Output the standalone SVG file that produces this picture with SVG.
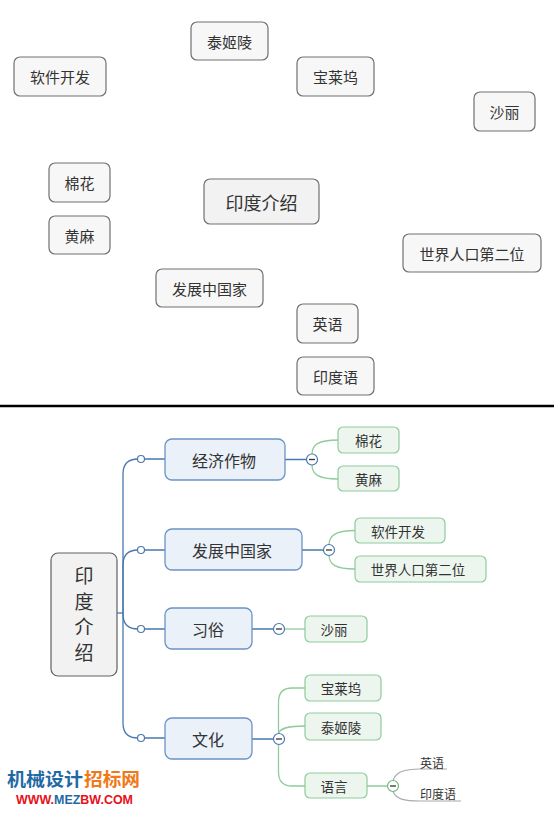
<svg xmlns="http://www.w3.org/2000/svg" width="554" height="817" viewBox="0 0 554 817">
<style>
text{font-family:"Noto Sans CJK SC","Noto Sans",sans-serif;fill:#333;text-anchor:middle;dominant-baseline:central}
.t rect{fill:#f7f7f7;stroke:#707070;stroke-width:1.2}
.t text{font-size:15px}
.root rect{fill:#f2f2f2;stroke:#606060;stroke-width:1.2}
.main rect{fill:#eaf1f9;stroke:#6b93c4;stroke-width:1.3}
.main text{font-size:16px}
.sub rect{fill:#ecf5ee;stroke:#8fcb9b;stroke-width:1.2}
.sub text{font-size:13.5px}
.leaf text{font-size:12px;text-anchor:start}
.blue{fill:none;stroke:#4a78ae;stroke-width:1.3}
.green{fill:none;stroke:#8fcb9b;stroke-width:1.3}
.grey{fill:none;stroke:#aaaaaa;stroke-width:1.2}
.dot{fill:#fff;stroke:#4a78ae;stroke-width:1.2}
.tog{fill:#fff;stroke:#4a78ae;stroke-width:1.2}
.tog-g{fill:#fff;stroke:#6fb57f;stroke-width:1.2}
.minus{stroke:#333;stroke-width:1.3}
</style>

<!-- Top: scattered topics -->
<g id="top-tajmahal" class="t"><rect x="191" y="22" width="77" height="38" rx="6"/><text x="229.5" y="41">泰姬陵</text></g>
<g id="top-software" class="t"><rect x="14" y="57" width="92" height="39" rx="6"/><text x="60" y="76.5">软件开发</text></g>
<g id="top-bollywood" class="t"><rect x="297" y="57" width="77" height="39" rx="6"/><text x="335.5" y="76.5">宝莱坞</text></g>
<g id="top-sari" class="t"><rect x="474" y="92" width="61" height="39" rx="6"/><text x="504.5" y="111.5">沙丽</text></g>
<g id="top-cotton" class="t"><rect x="49" y="163" width="61" height="39" rx="6"/><text x="79.5" y="182.5">棉花</text></g>
<g id="top-india" class="t"><rect x="204" y="179" width="115" height="45" rx="6" style="fill:#f2f2f2"/><text x="261.5" y="201.5" style="font-size:18px">印度介绍</text></g>
<g id="top-jute" class="t"><rect x="49" y="216" width="61" height="38" rx="6"/><text x="79.5" y="235">黄麻</text></g>
<g id="top-population" class="t"><rect x="403" y="234" width="138" height="38" rx="6"/><text x="472" y="253">世界人口第二位</text></g>
<g id="top-developing" class="t"><rect x="156" y="269" width="107" height="38" rx="6"/><text x="209.5" y="288">发展中国家</text></g>
<g id="top-english" class="t"><rect x="297" y="304" width="61" height="39" rx="6"/><text x="327.5" y="323.5">英语</text></g>
<g id="top-hindi" class="t"><rect x="297" y="357" width="77" height="38" rx="6"/><text x="335.5" y="376">印度语</text></g>

<line x1="0" y1="406" x2="554" y2="406" stroke="#000" stroke-width="2.5"/>

<!-- Bottom: mind map connectors -->
<g id="connectors">
  <path class="blue" d="M117,613 H123"/>
  <path class="blue" d="M123,613 V474 Q123,459 138,459"/>
  <path class="blue" d="M123,613 V565 Q123,550 138,550"/>
  <path class="blue" d="M123,613 V614 Q123,629 138,629"/>
  <path class="blue" d="M123,613 V723 Q123,738 138,738"/>
  <path class="blue" d="M144.5,459 H165 M144.5,550 H165 M144.5,629 H165 M144.5,738 H165"/>
  <circle class="dot" cx="141" cy="459" r="3.5"/>
  <circle class="dot" cx="141" cy="550" r="3.5"/>
  <circle class="dot" cx="141" cy="629" r="3.5"/>
  <circle class="dot" cx="141" cy="738" r="3.5"/>

  <path class="blue" d="M285,459.5 H306.5 M302,550 H323.5 M252,629 H273.5 M252,739 H273.5"/>

  <path class="green" d="M312,454 C312,445 318,440 338,440 M312,465 C312,474 318,479 338,479"/>
  <path class="green" d="M329,545 C329,536 335,530.5 355,530.5 M329,555 C329,564 335,569 355,569"/>
  <path class="green" d="M284.5,629 H305"/>
  <path class="green" d="M278.5,733.5 V702 Q278.5,688 292,688 H305 M278.5,733.5 C280,728 288,726 305,726 M278.5,744.5 V772 Q278.5,786 292,786 H305 M367,786 H387.5"/>
  <path class="grey" d="M393,780.5 C396,772 404,769 420,769 H447 M393,791.5 C396,799 404,801 420,801 H461"/>

  <circle class="tog" cx="312" cy="459.5" r="5.5"/><path class="minus" d="M309,459.5 H315"/>
  <circle class="tog" cx="329" cy="550" r="5.5"/><path class="minus" d="M326,550 H332"/>
  <circle class="tog" cx="279" cy="629" r="5.5"/><path class="minus" d="M276,629 H282"/>
  <circle class="tog" cx="279" cy="739" r="5.5"/><path class="minus" d="M276,739 H282"/>
  <circle class="tog-g" cx="393" cy="786" r="5.5"/><path class="minus" d="M390,786 H396"/>
</g>

<g id="root" class="root"><rect x="51" y="553" width="66" height="123" rx="7"/>
  <text x="84" y="566.5" style="font-size:19px;writing-mode:vertical-rl;text-orientation:upright;text-anchor:start;letter-spacing:6.5px">印度介绍</text>
</g>
<g id="b-crops" class="main"><rect x="165" y="439" width="120" height="41" rx="7"/><text x="224" y="459.5">经济作物</text></g>
<g id="b-developing" class="main"><rect x="165" y="529" width="137" height="41" rx="7"/><text x="232" y="549.5">发展中国家</text></g>
<g id="b-custom" class="main"><rect x="165" y="608" width="87" height="41" rx="7"/><text x="208" y="628.5">习俗</text></g>
<g id="b-culture" class="main"><rect x="165" y="718" width="87" height="41" rx="7"/><text x="208" y="738.5">文化</text></g>

<g id="s-cotton" class="sub"><rect x="338" y="427" width="61" height="26" rx="5"/><text x="368.5" y="440">棉花</text></g>
<g id="s-jute" class="sub"><rect x="338" y="466" width="61" height="25" rx="5"/><text x="368.5" y="478.5">黄麻</text></g>
<g id="s-software" class="sub"><rect x="355" y="518" width="90" height="25" rx="5"/><text x="398" y="530.5">软件开发</text></g>
<g id="s-population" class="sub"><rect x="355" y="556" width="131" height="26" rx="5"/><text x="418" y="569">世界人口第二位</text></g>
<g id="s-sari" class="sub"><rect x="305" y="616" width="62" height="26" rx="5"/><text x="334" y="629">沙丽</text></g>
<g id="s-bollywood" class="sub"><rect x="305" y="675" width="76" height="26" rx="5"/><text x="341" y="688">宝莱坞</text></g>
<g id="s-tajmahal" class="sub"><rect x="305" y="713" width="76" height="27" rx="5"/><text x="341" y="726.5">泰姬陵</text></g>
<g id="s-language" class="sub"><rect x="305" y="773" width="62" height="25" rx="5"/><text x="334" y="785.5">语言</text></g>
<g id="l-english" class="leaf"><text x="420" y="762">英语</text></g>
<g id="l-hindi" class="leaf"><text x="420" y="793">印度语</text></g>

<!-- watermark -->
<g id="watermark" style="font-weight:bold">
  <text x="7" y="778" style="font-size:18px;text-anchor:start;fill:#1f6aa5" textLength="76" lengthAdjust="spacingAndGlyphs">机械设计</text>
  <text x="84" y="778" style="font-size:18px;text-anchor:start;fill:#f07a1a" textLength="56" lengthAdjust="spacingAndGlyphs">招标网</text>
  <text x="16" y="800" style="font-size:12px;text-anchor:start;fill:#e8101a;font-family:'Liberation Sans',sans-serif" textLength="117" lengthAdjust="spacingAndGlyphs">WWW.<tspan style="fill:#1f6aa5">MEZ</tspan>BW.COM</text>
</g>
</svg>
